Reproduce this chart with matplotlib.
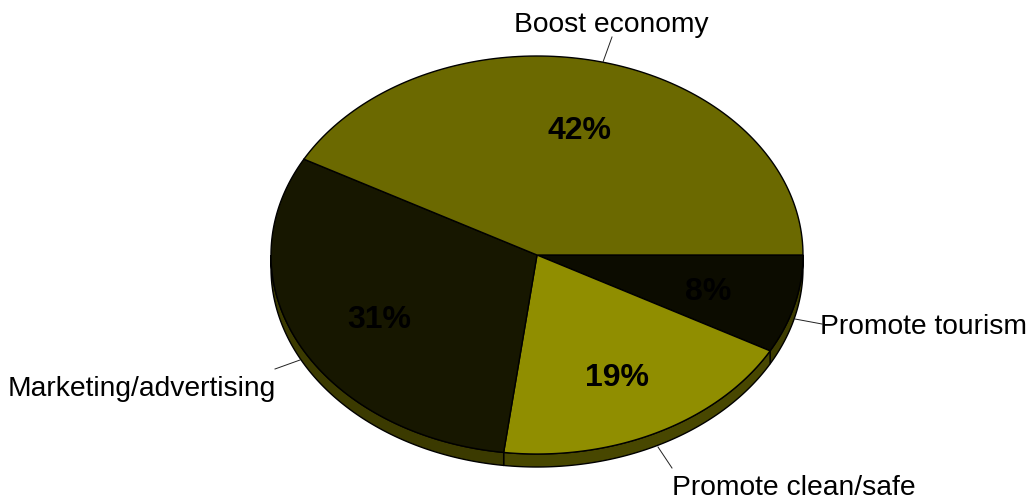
import matplotlib
matplotlib.use("Agg")
import matplotlib.pyplot as plt
import numpy as np
from matplotlib.patches import Polygon

# slices run clockwise from the right edge
labels = ["Promote tourism", "Promote clean/safe", "Marketing/advertising", "Boost economy"]
values = [8, 19, 31, 42]
colors = ["#0c0c00", "#908e00", "#171700", "#6b6900"]
side_colors = ["#3d3c00", "#484700", "#3b3a00", "#353400"]

plt.rcParams['font.family'] = ['Liberation Sans', 'DejaVu Sans']

W, H = 1029, 502
cx, cy = 537, 256
rx, ry = 266, 199
depth = 13

fig = plt.figure(figsize=(W / 100, H / 100), dpi=100)
ax = fig.add_axes([0, 0, 1, 1])
ax.set_xlim(0, W)
ax.set_ylim(H, 0)
ax.axis("off")


def rim(a0, a1):
    # angles clockwise from 3 o'clock, on the squashed circle
    t = np.radians(np.linspace(a0, a1, 120))
    return np.column_stack([cx + rx * np.cos(t), cy + ry * np.sin(t)])


fracs = np.array(values) / sum(values)
edges = np.concatenate([[0], np.cumsum(fracs) * 360])

# side wall first, only the front half of the rim shows
for i in range(len(values)):
    lo, hi = edges[i], min(edges[i + 1], 180)
    if lo < hi:
        top = rim(lo, hi)
        bottom = top[::-1] + [0, depth]
        ax.add_patch(Polygon(np.vstack([top, bottom]), closed=True,
                             fc=side_colors[i], ec="black", lw=1.0))

# top face
for i in range(len(values)):
    pts = np.vstack([[cx, cy], rim(edges[i], edges[i + 1])])
    ax.add_patch(Polygon(pts, closed=True, fc=colors[i], ec="black", lw=1.0))

# percent labels
pct_pos = [(708, 292), (617, 378), (379, 320), (580, 131)]
for v, (x, y) in zip(values, pct_pos):
    ax.text(x, y, "%d%%" % v, ha="center", va="center", fontsize=23,
            fontweight="bold", color="black")

# outside labels with leader lines
lab_pos = [(924, 327), (794, 488), (142, 389), (611, 25)]
lead = [((795, 320), (822, 325)), ((658, 448), (672, 469)),
        ((300, 361), (275, 370)), ((603, 63), (612, 38))]
for lb, (x, y), (p, q) in zip(labels, lab_pos, lead):
    ax.plot([p[0], q[0]], [p[1], q[1]], color="#222222", lw=0.7)
    ax.text(x, y, lb, ha="center", va="center", fontsize=20.3, color="black")

fig.savefig("out.png", dpi=100)
